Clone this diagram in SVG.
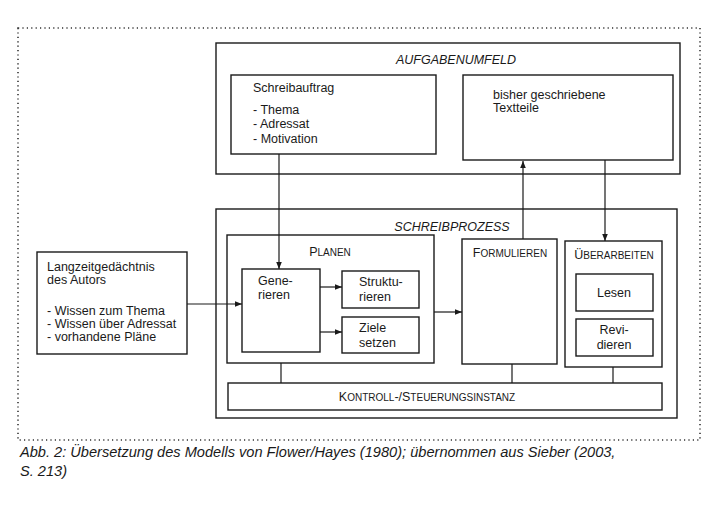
<svg xmlns="http://www.w3.org/2000/svg" width="722" height="507" viewBox="0 0 722 507">
<style>
.box{fill:none;stroke:#1a1a1a;stroke-width:1.4}
.ln{fill:none;stroke:#1a1a1a;stroke-width:1.2}
.t{font-family:"Liberation Sans",Arial,sans-serif;font-size:12.5px;fill:#1a1a1a}
.it{font-style:italic}
.sc{font-size:10px}
.cap{font-size:14.6px}
.frame{fill:none;stroke:#333;stroke-width:1.6;stroke-dasharray:1.2 3.2}
</style>
<defs>
<marker id="ah" viewBox="0 0 10 10" refX="10" refY="5" markerWidth="9" markerHeight="7" orient="auto" markerUnits="userSpaceOnUse">
<path d="M0,1 L10,5 L0,9 z" fill="#1a1a1a"/>
</marker>
</defs>
<rect class="frame" x="18" y="28" width="682" height="412"/>

<g id="aufgabenumfeld">
<rect class="box" x="216" y="43" width="464" height="131"/>
<text class="t it" x="456" y="64" text-anchor="middle">AUFGABENUMFELD</text>
</g>
<g id="schreibauftrag">
<rect class="box" x="231" y="75" width="205" height="79"/>
<text class="t" x="253" y="92">Schreibauftrag</text>
<text class="t" x="253" y="114">- Thema</text>
<text class="t" x="253" y="128">- Adressat</text>
<text class="t" x="253" y="143">- Motivation</text>
</g>
<g id="textteile">
<rect class="box" x="463" y="75" width="210" height="85"/>
<text class="t" x="493" y="99">bisher geschriebene</text>
<text class="t" x="493" y="112">Textteile</text>
</g>

<g id="schreibprozess">
<rect class="box" x="216" y="209" width="461" height="209"/>
<text class="t it" x="452" y="231" text-anchor="middle">SCHREIBPROZESS</text>
</g>
<g id="planen">
<rect class="box" x="227" y="235" width="207" height="128"/>
<text class="t" x="330" y="256" text-anchor="middle">P<tspan class="sc">LANEN</tspan></text>
</g>
<g id="generieren">
<rect class="box" x="242" y="269" width="78" height="83"/>
<text class="t" x="258" y="285">Gene-</text>
<text class="t" x="258" y="299">rieren</text>
</g>
<g id="strukturieren">
<rect class="box" x="342" y="271" width="77" height="37"/>
<text class="t" x="359" y="286">Struktu-</text>
<text class="t" x="359" y="301">rieren</text>
</g>
<g id="ziele">
<rect class="box" x="342" y="317" width="77" height="36"/>
<text class="t" x="359" y="332">Ziele</text>
<text class="t" x="359" y="347">setzen</text>
</g>
<g id="formulieren">
<rect class="box" x="462" y="239" width="95" height="125"/>
<text class="t" x="510" y="257" text-anchor="middle">F<tspan class="sc">ORMULIEREN</tspan></text>
</g>
<g id="ueberarbeiten">
<rect class="box" x="565" y="241" width="97" height="126"/>
<text class="t" x="614" y="259" text-anchor="middle">Ü<tspan class="sc">BERARBEITEN</tspan></text>
</g>
<g id="lesen">
<rect class="box" x="576" y="274" width="77" height="37"/>
<text class="t" x="614" y="297" text-anchor="middle">Lesen</text>
</g>
<g id="revidieren">
<rect class="box" x="576" y="319" width="77" height="37"/>
<text class="t" x="614" y="334" text-anchor="middle">Revi-</text>
<text class="t" x="614" y="349" text-anchor="middle">dieren</text>
</g>
<g id="kontrolle">
<rect class="box" x="228" y="383" width="434" height="27"/>
<text class="t" x="427" y="401" text-anchor="middle">K<tspan class="sc">ONTROLL</tspan>-/S<tspan class="sc">TEUERUNGSINSTANZ</tspan></text>
</g>
<g id="langzeit">
<rect class="box" x="37" y="252" width="150" height="102"/>
<text class="t" x="47" y="271">Langzeitgedächtnis</text>
<text class="t" x="47" y="284">des Autors</text>
<text class="t" x="47" y="315">- Wissen zum Thema</text>
<text class="t" x="47" y="328">- Wissen über Adressat</text>
<text class="t" x="47" y="341">- vorhandene Pläne</text>
</g>

<g id="connectors">
<line class="ln" x1="279" y1="154" x2="279" y2="269" marker-end="url(#ah)"/>
<line class="ln" x1="523" y1="239" x2="523" y2="161" marker-end="url(#ah)"/>
<line class="ln" x1="605" y1="160" x2="605" y2="241" marker-end="url(#ah)"/>
<line class="ln" x1="187" y1="304" x2="242" y2="304" marker-end="url(#ah)"/>
<line class="ln" x1="320" y1="287" x2="342" y2="287" marker-end="url(#ah)"/>
<line class="ln" x1="320" y1="332" x2="342" y2="332" marker-end="url(#ah)"/>
<line class="ln" x1="434" y1="312" x2="462" y2="312" marker-end="url(#ah)"/>
<line class="ln" x1="281" y1="363" x2="281" y2="383"/>
<line class="ln" x1="512" y1="364" x2="512" y2="383"/>
<line class="ln" x1="613" y1="367" x2="613" y2="383"/>
</g>

<text class="t it cap" x="20" y="457">Abb. 2: Übersetzung des Modells von Flower/Hayes (1980); übernommen aus Sieber (2003,</text>
<text class="t it cap" x="20" y="476">S. 213)</text>
</svg>
